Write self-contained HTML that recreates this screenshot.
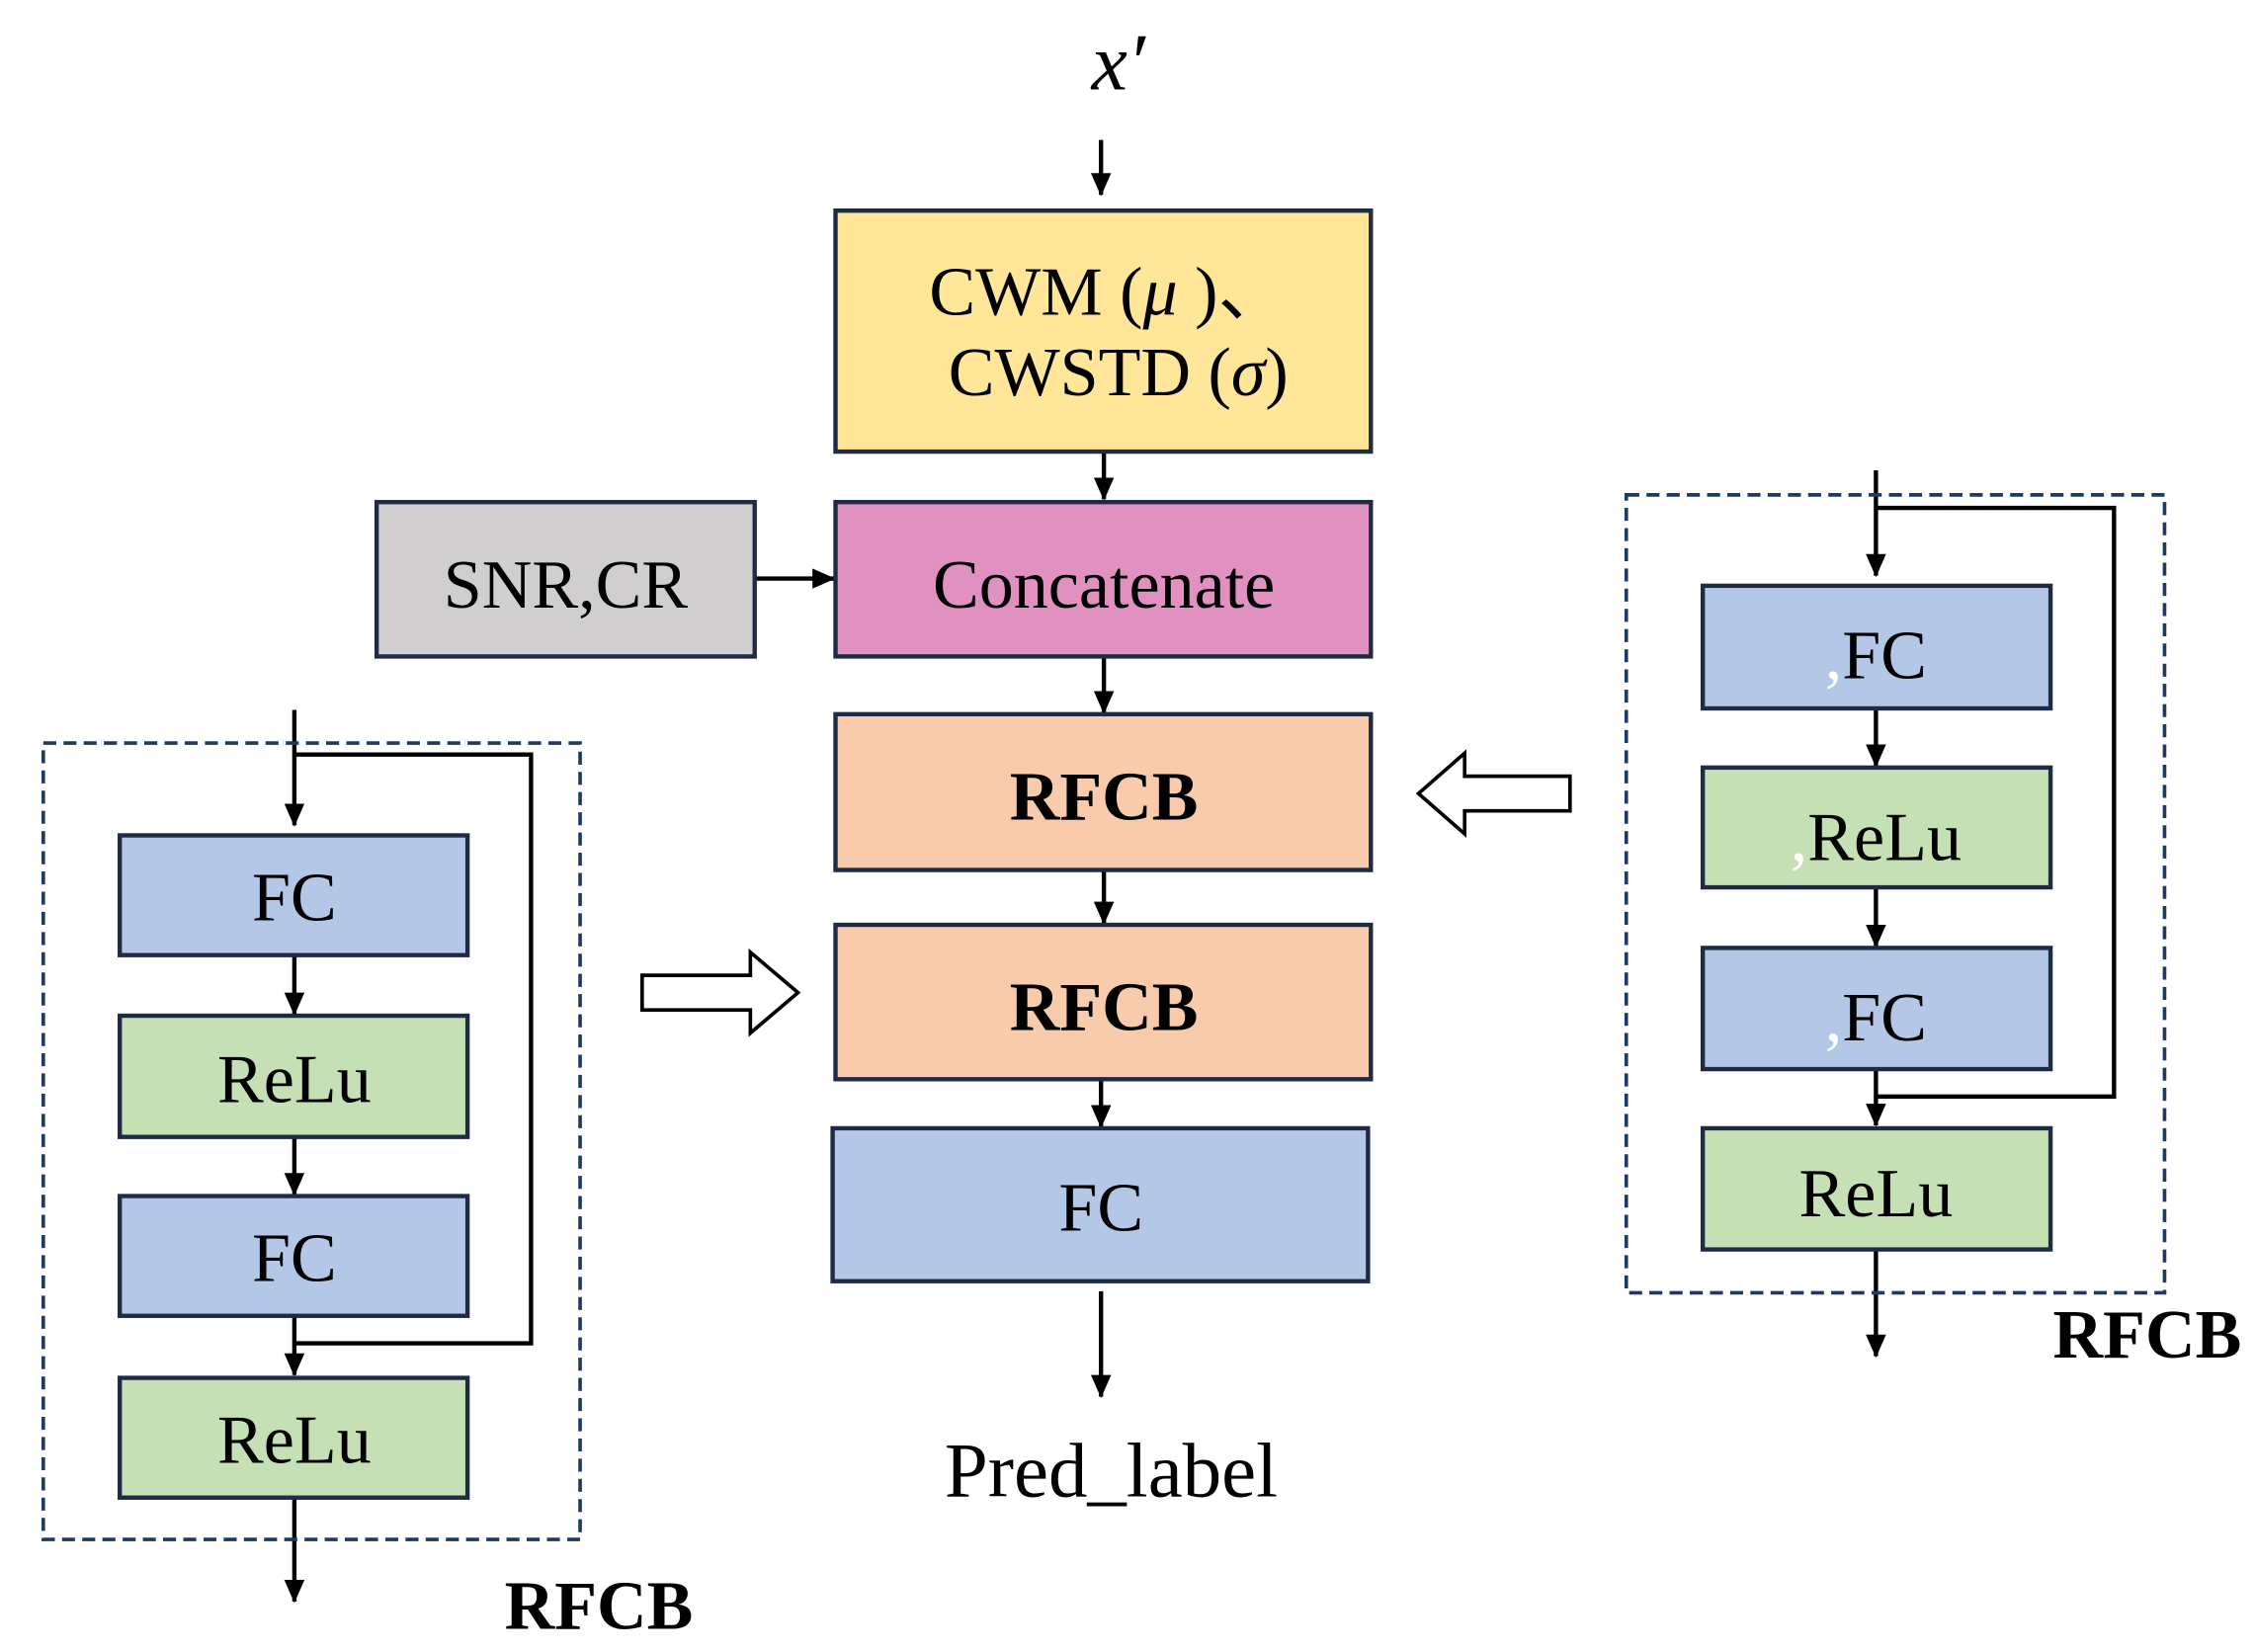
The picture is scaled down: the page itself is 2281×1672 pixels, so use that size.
<!DOCTYPE html>
<html><head><meta charset="utf-8"><style>html,body{margin:0;padding:0;background:#fff}svg{display:block}</style></head>
<body>
<svg width="2281" height="1672" viewBox="0 0 1562 1145" preserveAspectRatio="none" xmlns="http://www.w3.org/2000/svg" font-family="'Liberation Serif', serif">
<defs>
<marker id="ar" markerWidth="18" markerHeight="18" refX="15" refY="8" orient="auto" markerUnits="userSpaceOnUse"><path d="M0,1 L16,8 L0,15 z" fill="#000"/></marker></defs>
<g stroke="#000" stroke-width="3" fill="none" marker-end="url(#ar)">
<line x1="763" y1="97" x2="763" y2="135"/>
<line x1="765" y1="313" x2="765" y2="346"/>
<line x1="523" y1="401" x2="578" y2="401"/>
<line x1="765" y1="455" x2="765" y2="494"/>
<line x1="765" y1="603" x2="765" y2="640"/>
<line x1="763" y1="748" x2="763" y2="781"/>
<line x1="763" y1="895" x2="763" y2="968"/>
<line x1="204" y1="492" x2="204" y2="572"/>
<line x1="204" y1="662" x2="204" y2="703"/>
<line x1="204" y1="788" x2="204" y2="828"/>
<line x1="204" y1="912" x2="204" y2="953"/>
<line x1="204" y1="1038" x2="204" y2="1110"/>
<line x1="1300" y1="326" x2="1300" y2="399"/>
<line x1="1300" y1="491" x2="1300" y2="531"/>
<line x1="1300" y1="615" x2="1300" y2="656"/>
<line x1="1300" y1="741" x2="1300" y2="780"/>
<line x1="1300" y1="866" x2="1300" y2="940"/>
</g>
<g stroke="#000" stroke-width="3" fill="none">
<polyline points="204,523 368,523 368,931 204,931"/>
<polyline points="1300,352 1465,352 1465,760 1300,760"/>
</g>
<g stroke="#1F3864" stroke-width="2.5" fill="none" stroke-dasharray="9,5">
<rect x="30" y="515" width="372" height="552"/>
<rect x="1127" y="343" width="373" height="553"/>
</g>
<g stroke="#1F2A44" stroke-width="3">
<rect x="579" y="146" width="371" height="167" fill="#FFE699"/>
<rect x="579" y="348" width="371" height="107" fill="#E091C0"/>
<rect x="261" y="348" width="262" height="107" fill="#D0CECE"/>
<rect x="579" y="495" width="371" height="108" fill="#F8CBAD"/>
<rect x="579" y="641" width="371" height="107" fill="#F8CBAD"/>
<rect x="577" y="782" width="371" height="106" fill="#B4C7E7"/>
<rect x="83" y="579" width="241" height="83" fill="#B4C7E7"/>
<rect x="83" y="704" width="241" height="84" fill="#C5E0B4"/>
<rect x="83" y="829" width="241" height="83" fill="#B4C7E7"/>
<rect x="83" y="955" width="241" height="83" fill="#C5E0B4"/>
<rect x="1180" y="406" width="241" height="85" fill="#B4C7E7"/>
<rect x="1180" y="532" width="241" height="83" fill="#C5E0B4"/>
<rect x="1180" y="657" width="241" height="84" fill="#B4C7E7"/>
<rect x="1180" y="782" width="241" height="84" fill="#C5E0B4"/>
</g>
<g stroke="#000" stroke-width="2.5" fill="#fff">
<polygon points="1088,538 1015,538 1015,522 983,550 1015,578 1015,562 1088,562"/>
<polygon points="445,676 520,676 520,660 553,688 520,716 520,700 445,700"/>
</g>
<g font-size="48" text-anchor="middle" fill="#000">
<text x="775" y="62" font-style="italic" font-size="56">x′</text>
<text x="768" y="218">CWM (<tspan font-style="italic">μ</tspan> )、</text>
<text x="775" y="274">CWSTD (<tspan font-style="italic">σ</tspan>)</text>
<text x="765" y="421">Concatenate</text>
<text x="392" y="421">SNR,CR</text>
<text x="765" y="568" font-weight="bold">RFCB</text>
<text x="765" y="714" font-weight="bold">RFCB</text>
<text x="763" y="853">FC</text>
<text x="770" y="1037" font-size="54">Pred_label</text>
<text x="204" y="638">FC</text>
<text x="204" y="764">ReLu</text>
<text x="204" y="888">FC</text>
<text x="204" y="1014">ReLu</text>
<text x="1300" y="470"><tspan fill="#fff">,</tspan>FC</text>
<text x="1300" y="596"><tspan fill="#fff">,</tspan>ReLu</text>
<text x="1300" y="721"><tspan fill="#fff">,</tspan>FC</text>
<text x="1300" y="843">ReLu</text>
<text x="415" y="1129" font-weight="bold">RFCB</text>
<text x="1488" y="941" font-weight="bold">RFCB</text>
</g>
</svg>
</body></html>
